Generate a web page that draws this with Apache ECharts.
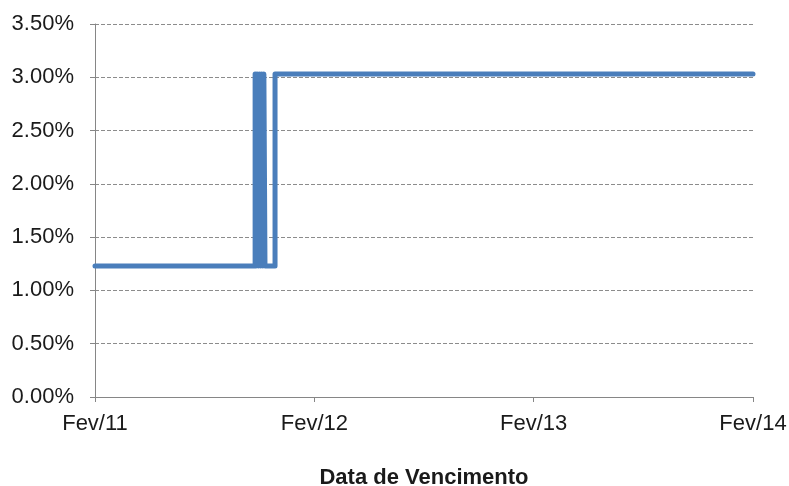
<!DOCTYPE html>
<html>
<head>
<meta charset="utf-8">
<script src="https://cdn.jsdelivr.net/npm/echarts@6/dist/echarts.min.js"></script>
<style>html,body{margin:0;padding:0;background:#fff}#c{width:789px;height:486px}</style>
</head>
<body>
<div id="c"></div>
<script>
// Months since Feb/2011 (maturity date) and rate (%)
const maturityMonths = [0, 8.76, 8.76, 8.82, 8.82, 8.88, 8.88, 8.94, 8.94, 9.00, 9.00, 9.06, 9.06, 9.12, 9.12, 9.18, 9.18, 9.24, 9.24, 9.30, 9.30, 9.85, 9.85, 36];
const rateValues     = [1.23, 1.23, 3.03, 3.03, 1.23, 1.23, 3.03, 3.03, 1.23, 1.23, 3.03, 3.03, 1.23, 1.23, 3.03, 3.03, 1.23, 1.23, 3.03, 3.03, 1.23, 1.23, 3.03, 3.03];
const xTickLabels = ['Fev/11', 'Fev/12', 'Fev/13', 'Fev/14'];
const xAxisTitle = 'Data de Vencimento';

const chart = echarts.init(document.getElementById('c'));
const font = 'Liberation Sans, Arial, sans-serif';
chart.setOption({
  animation: false,
  grid: { left: 95, right: 36, top: 24, bottom: 89, containLabel: false, outerBoundsMode: 'none' },
  xAxis: {
    type: 'value', min: 0, max: 36, interval: 12,
    name: xAxisTitle, nameLocation: 'middle', nameGap: 70,
    nameTextStyle: { fontFamily: font, fontSize: 22, fontWeight: 'bold', color: '#1a1a1a' },
    axisLine: { show: true, lineStyle: { color: '#868686', width: 1 } },
    axisTick: { show: true, length: 5, lineStyle: { color: '#868686' } },
    axisLabel: { fontFamily: font, fontSize: 22, color: '#1a1a1a', margin: 16,
      formatter: v => xTickLabels[Math.round(v / 12)] },
    splitLine: { show: false }
  },
  yAxis: {
    type: 'value', min: 0, max: 3.5, interval: 0.5,
    axisLine: { show: true, lineStyle: { color: '#868686', width: 1 } },
    axisTick: { show: true, length: 5, lineStyle: { color: '#868686' } },
    axisLabel: { fontFamily: font, fontSize: 22, color: '#1a1a1a', margin: 21,
      formatter: v => v.toFixed(2) + '%' },
    splitLine: { show: true, lineStyle: { color: '#8c8c8c', type: 'dashed', width: 1 } }
  },
  series: [{
    type: 'line',
    data: maturityMonths.map((m, i) => [m, rateValues[i]]),
    showSymbol: false,
    lineStyle: { color: '#4a7ebb', width: 5, join: 'round', cap: 'round' }
  }]
});
</script>
</body>
</html>
